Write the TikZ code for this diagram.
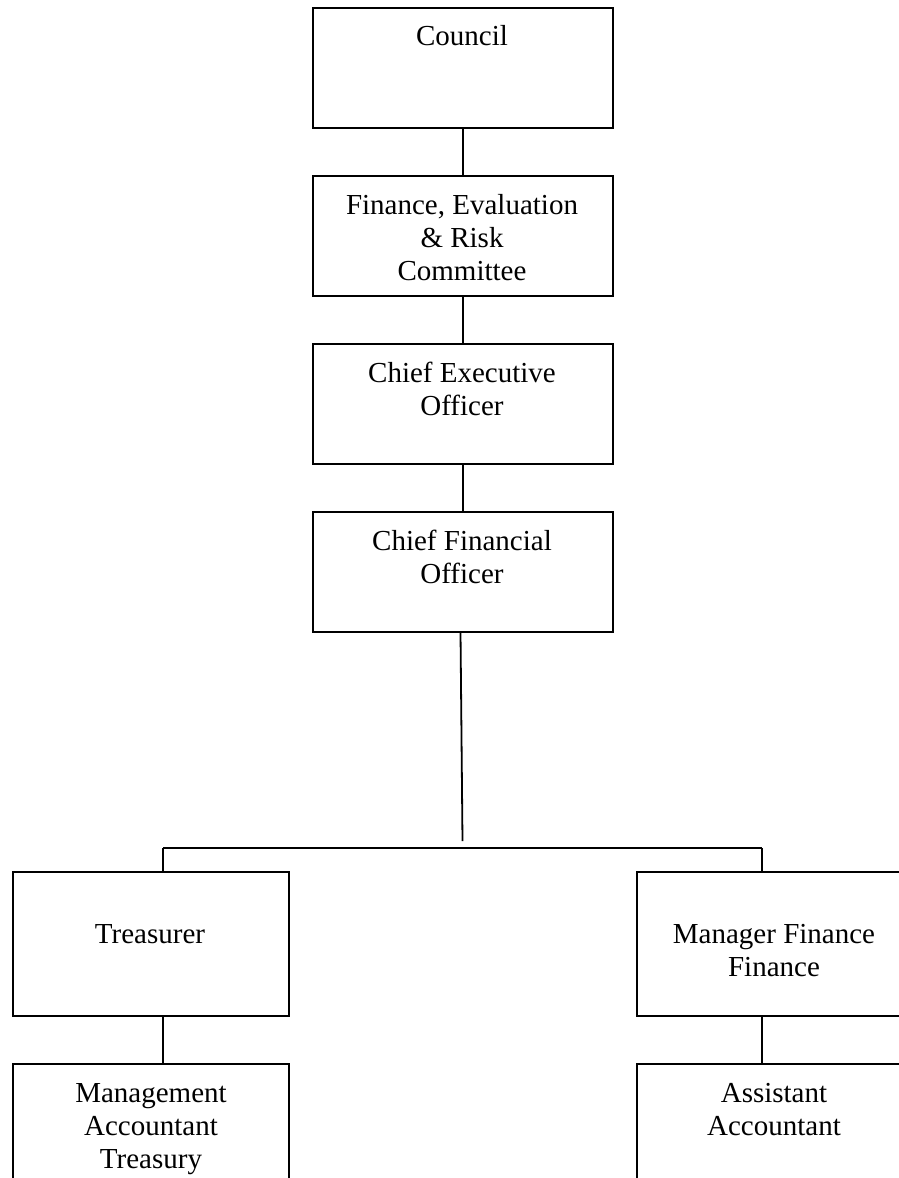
\documentclass[tikz,border=0pt]{standalone}
\usepackage{fontspec}
\setmainfont{Liberation Serif}
\newcommand{\mylines}[1]{\begin{tabular}[t]{@{}c@{}}#1\end{tabular}}
\begin{document}
\begin{tikzpicture}[x=1pt,y=-1pt,
  box/.style={draw=black, line width=1.8pt, rectangle, inner sep=0pt, outer sep=0pt},
  tall/.style={box, minimum width=300pt, minimum height=120pt},
  wide/.style={box, minimum width=276pt, minimum height=144pt},
  lbl/.style={anchor=base, inner sep=0pt, font=\fontsize{29}{33}\selectfont},
  conn/.style={draw=black, line width=1.8pt}]
\useasboundingbox (0,0) rectangle (899,1178);
\clip (0,0) rectangle (899,1178);
\fill[white] (0,0) rectangle (899,1178);
% boxes
\node[tall] (council) at (463,68) {};
\node[tall] (fer) at (463,236) {};
\node[tall] (ceo) at (463,404) {};
\node[tall] (cfo) at (463,572) {};
\node[wide] (treas) at (151,944) {};
\node[wide] (mgr) at (775,944) {};
\node[wide] (mat) at (151,1136) {};
\node[wide] (asst) at (775,1136) {};
% texts
\node[lbl] (tcouncil) at (462,45) {\mylines{Council}};
\node[lbl] (tfer) at (462,214) {\mylines{Finance, Evaluation\\\& Risk\\Committee}};
\node[lbl] (tceo) at (462,382) {\mylines{Chief Executive\\Officer}};
\node[lbl] (tcfo) at (462,550) {\mylines{Chief Financial\\Officer}};
\node[lbl] (ttreas) at (150,943) {\mylines{Treasurer}};
\node[lbl] (tmgr) at (774,943) {\mylines{Manager Finance\\Finance}};
\node[lbl] (tmat) at (151,1102) {\mylines{Management\\Accountant\\Treasury}};
\node[lbl] (tasst) at (774,1102) {\mylines{Assistant\\Accountant}};
% coordinates
\coordinate (cfoEnd) at (462.5,841);
\coordinate (barL) at (163,848);
\coordinate (barR) at (762,848);
% connectors
\draw[conn] (council.south) -- (fer.north);
\draw[conn] (fer.south) -- (ceo.north);
\draw[conn] (ceo.south) -- (cfo.north);
\draw[conn] ([xshift=-2.5pt]cfo.south) -- (cfoEnd);
\draw[conn] (barL) -- (barR);
\draw[conn] (barL) -- (barL |- treas.north);
\draw[conn] (barR) -- (barR |- mgr.north);
\draw[conn] (barL |- treas.south) -- (barL |- mat.north);
\draw[conn] (barR |- mgr.south) -- (barR |- asst.north);
\end{tikzpicture}
\end{document}
